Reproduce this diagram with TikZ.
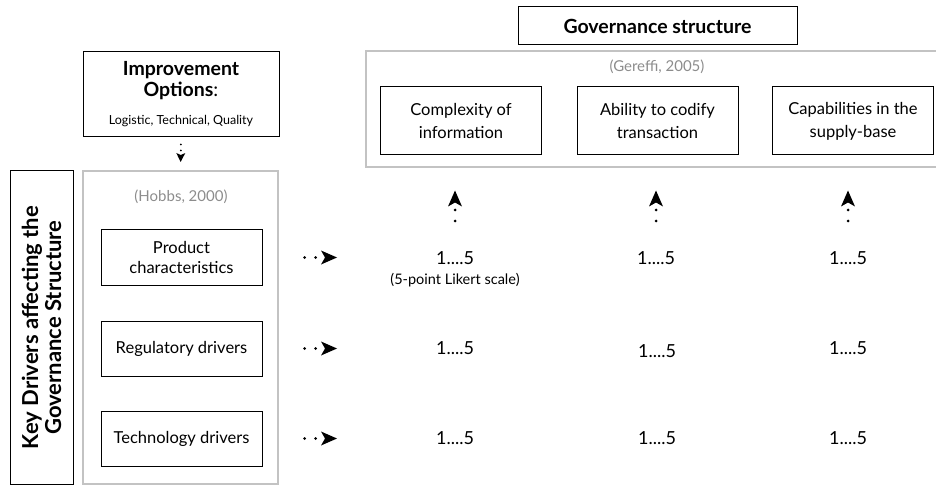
\documentclass[tikz,border=0pt]{standalone}
\usepackage{fontspec}
\setmainfont{Lato}
\usepackage{xcolor}
\usetikzlibrary{arrows.meta}
\definecolor{framegray}{RGB}{195,195,195}
\definecolor{citegray}{RGB}{140,140,140}

\begin{document}
\begin{tikzpicture}[x=1pt, y=-1pt,
		blackbox/.style = {draw, line width=1pt, align=center, inner sep=2pt},
		graybox/.style = {draw=framegray, line width=2pt, inner sep=0pt},
		factor/.style = {blackbox, minimum width=161pt, minimum height=55pt, font=\fontsize{16.5}{20}\selectfont},
		driver/.style = {blackbox, minimum width=161pt, minimum height=68pt, font=\fontsize{16.5}{23}\selectfont},
		cite/.style = {text=citegray, font=\fontsize{15}{17}\selectfont},
		value/.style = {inner sep=1pt, font=\fontsize{18}{20}\selectfont},
		dotarrow/.style = {line width=3pt, line cap=round, dash pattern=on 0pt off 11pt,
			-{Stealth[length=16pt, width=14pt, inset=4pt, line width=0pt]}},
		smallarrow/.style = {line width=2pt, line cap=round, dash pattern=on 0pt off 6pt,
			-{Stealth[length=9pt, width=9pt, inset=2pt, line width=0pt]}}]
		\useasboundingbox (0,0) rectangle (936,486);

		\node[graybox, minimum width=584pt, minimum height=116pt] (gereffi) at (658,109) {};
		\node[graybox, minimum width=195pt, minimum height=313pt] (hobbs) at (180.5,327.5) {};
		\node[cite] (gereffitxt) at (657,67) {(Gereffi, 2005)};
		\node[cite] (hobbstxt) at (181,197) {(Hobbs, 2000)};

		\node[blackbox, minimum width=279pt, minimum height=38pt, font=\bfseries\fontsize{19.5}{22}\selectfont] (gov) at (657.5,26) {Governance structure};
		\node[blackbox, minimum width=196pt, minimum height=85pt, font=\fontsize{19.5}{21}\selectfont] (impr) at (181,94.5)
			{\textbf{Improvement}\\\textbf{Options}:\\[7pt]{\fontsize{12.5}{14}\selectfont Logistic, Technical, Quality}};
		\node[blackbox, rotate=90, minimum width=313pt, minimum height=63pt, font=\bfseries\fontsize{22}{23}\selectfont] (key) at (41.5,327.5)
			{Key Drivers affecting the\\Governance Structure};

		\node[driver] (cplx) at (461,121) {Complexity of\\information};
		\node[driver] (codify) at (657.5,121) {Ability to codify\\transaction};
		\node[driver] (capab) at (853,121) {Capabilities in the\\supply-base};

		\node[factor] (prod) at (181.5,257.5) {Product\\characteristics};
		\node[factor] (regul) at (181.5,348.5) {Regulatory drivers};
		\node[factor] (techn) at (181.5,438.5) {Technology drivers};

		\node[value] (v11) at (455,258) {1....5};
		\node[value] (v12) at (656,258) {1....5};
		\node[value] (v13) at (848,258) {1....5};
		\node[value] (v21) at (455,348) {1....5};
		\node[value] (v22) at (657,351) {1....5};
		\node[value] (v23) at (848,348) {1....5};
		\node[value] (v31) at (455,438) {1....5};
		\node[value] (v32) at (657,438) {1....5};
		\node[value] (v33) at (848,438) {1....5};
		\node[font=\fontsize{14.5}{17}\selectfont] (likert) at (455,280) {(5-point Likert scale)};

		\draw[smallarrow, shorten <=7pt, shorten >=8pt] (impr.south) -- (hobbs.north);

		\draw[dotarrow, shorten <=42pt, shorten >=118pt] (prod.east) -- (prod.east -| v11.center);
		\draw[dotarrow, shorten <=42pt, shorten >=118pt] (regul.east) -- (regul.east -| v11.center);
		\draw[dotarrow, shorten <=42pt, shorten >=118pt] (techn.east) -- (techn.east -| v11.center);

		\draw[dotarrow, shorten <=37pt, shorten >=35pt] (v11.center) -- (v11.center |- cplx.south);
		\draw[dotarrow, shorten <=37pt, shorten >=35pt] (v12.center) -- (v12.center |- codify.south);
		\draw[dotarrow, shorten <=37pt, shorten >=35pt] (v13.center) -- (v13.center |- capab.south);
	\end{tikzpicture}
\end{document}
